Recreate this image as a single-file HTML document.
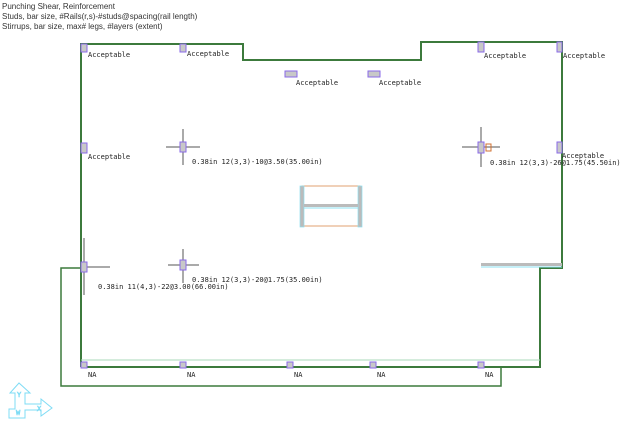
<!DOCTYPE html>
<html><head><style>
body{margin:0;background:#fff;width:624px;height:428px;overflow:hidden;position:relative;font-family:"Liberation Sans",sans-serif}
.h{position:absolute;left:2px;font-size:8px;color:#333;line-height:10px}
svg{position:absolute;left:0;top:0}
</style></head><body>
<div class="h" style="top:2px">Punching Shear, Reinforcement</div>
<div class="h" style="top:12px">Studs, bar size, #Rails(r,s)-#studs@spacing(rail length)</div>
<div class="h" style="top:22px">Stirrups, bar size, max# legs, #layers (extent)</div>
<svg width="624" height="428" font-family="DejaVu Sans Mono, Liberation Mono, monospace" font-size="7" fill="#222">
<g fill="none" stroke="#3c7a3c" stroke-width="2">
<polyline points="81,367 81,44 243,44 243,60 421,60 421,42 562,42 562,268 540,268 540,367 81,367"/>
<polyline points="81,268 61,268 61,386 501,386 501,367" stroke-width="1.5"/>
</g>
<line x1="81" y1="360" x2="540" y2="360" stroke="#a8d8b8" stroke-width="1"/>
<rect x="481" y="263" width="81" height="3" fill="#bbb"/>
<line x1="481" y1="267" x2="562" y2="267" stroke="#8ee0f0"/>
<rect x="302" y="186" width="58" height="40" fill="none" stroke="#e0a070"/>
<rect x="300" y="186" width="4" height="41" fill="#bbb" stroke="#8ee0f0" stroke-width="0.7"/>
<rect x="358" y="186" width="4" height="41" fill="#bbb" stroke="#8ee0f0" stroke-width="0.7"/>
<rect x="304" y="204" width="54" height="3" fill="#bbb"/>
<line x1="304" y1="208" x2="358" y2="208" stroke="#8ee0f0"/>
<g stroke="#555" stroke-width="1">
<line x1="183" y1="129" x2="183" y2="165"/><line x1="166" y1="147" x2="200" y2="147"/>
<line x1="481" y1="127" x2="481" y2="167"/><line x1="462" y1="147" x2="500" y2="147"/>
<line x1="84" y1="238" x2="84" y2="295"/><line x1="84" y1="267" x2="110" y2="267"/>
<line x1="183" y1="249" x2="183" y2="283"/><line x1="168" y1="265" x2="199" y2="265"/>
</g>
<rect x="486" y="144" width="5" height="7" fill="none" stroke="#d07030"/>
<g fill="#c8c8c8" stroke="#8a6ae8" stroke-width="1">
<rect x="81" y="44" width="6" height="8"/>
<rect x="180" y="44" width="6" height="8"/>
<rect x="285" y="71" width="12" height="6"/>
<rect x="368" y="71" width="12" height="6"/>
<rect x="478" y="42" width="6" height="10"/>
<rect x="557" y="42" width="5" height="10"/>
<rect x="81" y="143" width="6" height="10"/>
<rect x="180" y="142" width="6" height="10"/>
<rect x="478" y="142" width="6" height="11"/>
<rect x="557" y="142" width="5" height="11"/>
<rect x="81" y="262" width="6" height="10"/>
<rect x="180" y="260" width="6" height="10"/>
<rect x="81" y="362" width="6" height="6"/>
<rect x="180" y="362" width="6" height="6"/>
<rect x="287" y="362" width="6" height="6"/>
<rect x="370" y="362" width="6" height="6"/>
<rect x="478" y="362" width="6" height="6"/>
</g>
<text x="88" y="57">Acceptable</text>
<text x="187" y="56">Acceptable</text>
<text x="296" y="85">Acceptable</text>
<text x="379" y="85">Acceptable</text>
<text x="484" y="58">Acceptable</text>
<text x="563" y="58">Acceptable</text>
<text x="88" y="159">Acceptable</text>
<text x="562" y="158">Acceptable</text>
<text x="192" y="164">0.38in 12(3,3)-10@3.50(35.00in)</text>
<text x="490" y="165">0.38in 12(3,3)-26@1.75(45.50in)</text>
<text x="98" y="289">0.38in 11(4,3)-22@3.00(66.00in)</text>
<text x="192" y="282">0.38in 12(3,3)-20@1.75(35.00in)</text>
<text x="88" y="377">NA</text><text x="187" y="377">NA</text><text x="294" y="377">NA</text><text x="377" y="377">NA</text><text x="485" y="377">NA</text>
<g fill="none" stroke="#7fdcf5" stroke-width="1">
<polygon points="19,383 10,393 15,393 15,409 9,409 9,418 25,418 25,410 41,410 41,416 52,408 41,399 41,404 25,404 25,393 30,393 19,383"/>
<text x="17" y="397" stroke-width="0.6" font-size="7" fill="none">Y</text>
<text x="16" y="415" stroke-width="0.6" font-size="7" fill="none">W</text>
<text x="37" y="411" stroke-width="0.6" font-size="7" fill="none">X</text>
</g>
</svg>
</body></html>
